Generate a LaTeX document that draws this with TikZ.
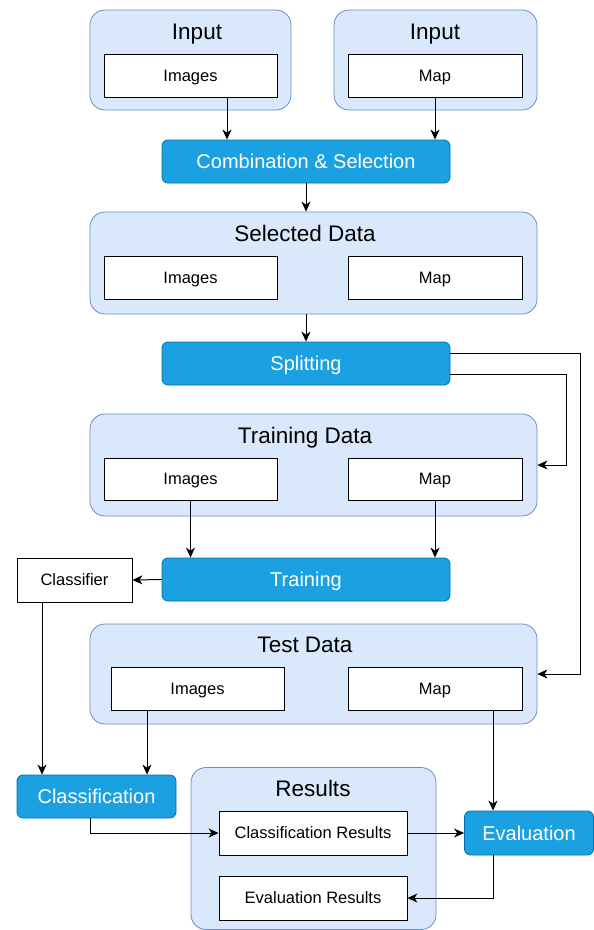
\documentclass[tikz,border=0pt]{standalone}
\usepackage{fontspec}
\setmainfont{Liberation Sans}
\usetikzlibrary{arrows.meta}
\definecolor{grpfill}{HTML}{DAE8FC}
\definecolor{grpline}{HTML}{6C8EBF}
\definecolor{stepfill}{HTML}{1BA1E2}
\definecolor{stepline}{HTML}{006EAF}
\tikzset{
  group/.style={draw=grpline,fill=grpfill,rounded corners=15pt,line width=0.8pt},
  grouptitle/.style={font=\fontsize{22.5}{26}\selectfont,text height=16.1pt,text depth=0pt},
  item/.style={draw,fill=white,line width=0.9pt,font=\fontsize{16.5}{19}\selectfont,
    text height=11.8pt,text depth=0pt},
  stepbox/.style={draw=stepline,fill=stepfill,rounded corners=6pt,line width=0.8pt,
    text=white,font=\fontsize{20}{24}\selectfont,text height=14.3pt,text depth=0pt},
  arr/.style={-{Stealth[length=10pt,width=9pt,inset=3pt]},line width=1pt}
}
\begin{document}
\begin{tikzpicture}[x=1pt,y=-1pt,inner sep=0pt]
\useasboundingbox (0,0) rectangle (594,930);
% inputs
\node[group,minimum width=201,minimum height=100] (in1) at (190.5,60) {};
\node[grouptitle] (in1t) at (197,31) {Input};
\node[item,minimum width=173,minimum height=43] (in1img) at (190.5,75.5) {Images};
\node[group,minimum width=203,minimum height=100] (in2) at (435.5,60) {};
\node[grouptitle] (in2t) at (435,31) {Input};
\node[item,minimum width=174,minimum height=43] (in2map) at (435,75.5) {Map};
\node[stepbox,minimum width=288,minimum height=43] (comb) at (306,161.5) {Combination \& Selection};
% selected data
\node[group,minimum width=447,minimum height=102] (sel) at (313.5,263) {};
\node[grouptitle] (selt) at (305,233) {Selected Data};
\node[item,minimum width=173,minimum height=43] (selimg) at (190.5,277.5) {Images};
\node[item,minimum width=174,minimum height=43] (selmap) at (435,277.5) {Map};
\node[stepbox,minimum width=288,minimum height=43] (split) at (306,363.5) {Splitting};
% training data
\node[group,minimum width=447,minimum height=102] (train) at (313.5,465) {};
\node[grouptitle] (traint) at (305,435) {Training Data};
\node[item,minimum width=173,minimum height=42] (trimg) at (190.5,479) {Images};
\node[item,minimum width=174,minimum height=42] (trmap) at (435,479) {Map};
\node[stepbox,minimum width=288,minimum height=43] (training) at (306,579.5) {Training};
\node[item,minimum width=115,minimum height=44] (classifier) at (74.5,580) {Classifier};
% test data
\node[group,minimum width=447,minimum height=100] (test) at (313.5,674) {};
\node[grouptitle] (testt) at (305,644) {Test Data};
\node[item,minimum width=173,minimum height=43] (teimg) at (197.5,688.5) {Images};
\node[item,minimum width=174,minimum height=43] (temap) at (435,688.5) {Map};
% results
\node[stepbox,minimum width=159,minimum height=43] (classif) at (96.5,796.5) {Classification};
\node[group,minimum width=245,minimum height=162] (res) at (313.5,848.5) {};
\node[grouptitle] (rest) at (313,788) {Results};
\node[item,minimum width=188,minimum height=44] (clres) at (313,833) {Classification Results};
\node[item,minimum width=188,minimum height=44] (evres) at (313,898) {Evaluation Results};
\node[stepbox,minimum width=129,minimum height=44] (eval) at (529,833) {Evaluation};

% connectors
\coordinate (c1) at ([xshift=36.5pt]in1img.south);
\draw[arr] (c1) -- (c1 |- comb.north);
\draw[arr] (in2map.south) -- (in2map.south |- comb.north);
\draw[arr] (comb.south) -- (comb.south |- sel.north);
\draw[arr] (split.north |- sel.south) -- (split.north);
\coordinate (s1) at ([yshift=10.5pt]split.east);
\coordinate (s2) at ([yshift=-10.5pt]split.east);
\draw[arr] (s1) -- ++(130,0) |- (test.east);
\draw[arr] (s2) -- ++(116,0) |- (train.east);
\draw[arr] (trimg.south) -- (trimg.south |- training.north);
\draw[arr] (trmap.south) -- (trmap.south |- training.north);
\draw[arr] (training.west) -- (classifier.east);
\coordinate (c2) at ([xshift=-32.5pt]classifier.south);
\draw[arr] (c2) -- (c2 |- classif.north);
\coordinate (c3) at ([xshift=-50.5pt]teimg.south);
\draw[arr] (c3) -- (c3 |- classif.north);
\coordinate (c4) at ([xshift=-6.5pt]classif.south);
\draw[arr] (c4) |- (clres.west);
\draw[arr] (clres.east) -- (eval.west);
\coordinate (c5) at ([xshift=58pt]temap.south);
\draw[arr] (c5) -- (c5 |- eval.north);
\coordinate (c6) at ([xshift=-36pt]eval.south);
\draw[arr] (c6) |- (evres.east);
\end{tikzpicture}
\end{document}
